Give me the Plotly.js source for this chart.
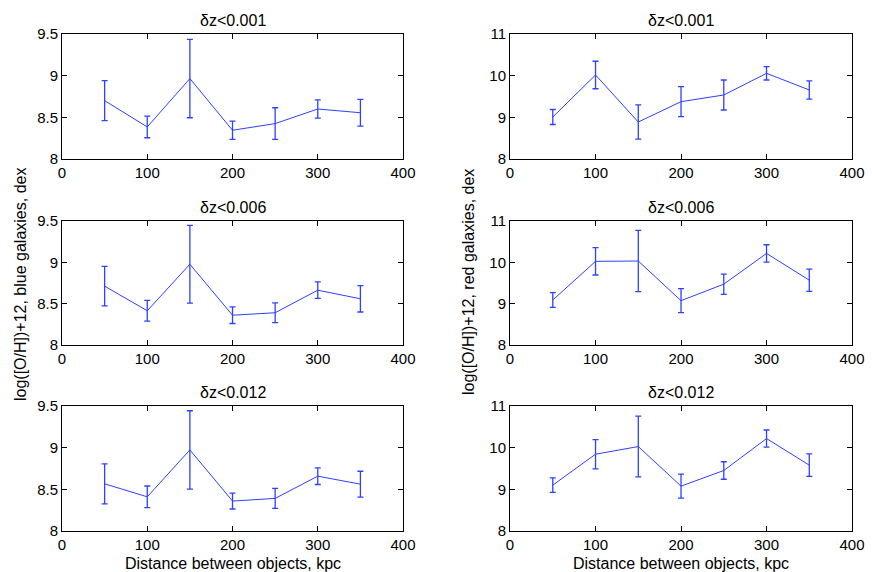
<!DOCTYPE html>
<html>
<head>
<meta charset="utf-8">
<script src="https://cdn.plot.ly/plotly-3.0.1.min.js"></script>
<style>html,body{margin:0;padding:0;background:#fff;}#chart{width:872px;height:572px;}</style>
</head>
<body>
<div id="chart"></div>
<script>
// Distances (kpc)
var distance = [50, 100, 150, 200, 250, 300, 350];

// Blue galaxies
var blue001 = [8.70, 8.385, 8.965, 8.345, 8.425, 8.60, 8.555];
var blue001Err = [0.24, 0.13, 0.47, 0.11, 0.19, 0.11, 0.16];
var blue006 = [8.712, 8.414, 8.977, 8.36, 8.39, 8.663, 8.559];
var blue006Err = [0.24, 0.125, 0.47, 0.10, 0.12, 0.10, 0.16];
var blue012 = [8.566, 8.41, 8.973, 8.359, 8.391, 8.658, 8.562];
var blue012Err = [0.24, 0.13, 0.47, 0.095, 0.12, 0.10, 0.155];

// Red galaxies
var red001 = [9.008, 10.016, 8.888, 9.376, 9.536, 10.056, 9.656];
var red001Err = [0.18, 0.33, 0.41, 0.36, 0.36, 0.16, 0.22];
var red006 = [9.088, 10.024, 10.032, 9.072, 9.472, 10.216, 9.568];
var red006Err = [0.18, 0.33, 0.74, 0.29, 0.245, 0.21, 0.27];
var red012 = [9.101, 9.843, 10.027, 9.077, 9.452, 10.219, 9.58];
var red012Err = [0.175, 0.35, 0.73, 0.29, 0.21, 0.205, 0.27];

var panelTitles = ["δz<0.001", "δz<0.001", "δz<0.006", "δz<0.006", "δz<0.012", "δz<0.012"];
var xTicks = [0, 100, 200, 300, 400];
var blueTicks = [8, 8.5, 9, 9.5];
var redTicks = [8, 9, 10, 11];
var xLabel = "Distance between objects, kpc";
var yLabelBlue = "log([O/H])+12, blue galaxies, dex";
var yLabelRed = "log([O/H])+12, red galaxies, dex";

var series = [
  [blue001, blue001Err], [red001, red001Err],
  [blue006, blue006Err], [red006, red006Err],
  [blue012, blue012Err], [red012, red012Err]
];

var lineColor = "rgb(45,65,255)";
var font = "Liberation Sans, Arial, sans-serif";

var colDom = [[0.0711, 0.4622], [0.5849, 0.9771]];
var rowDom = [[0.722, 0.9406], [0.3969, 0.6136], [0.0717, 0.2902]];

var traces = [];
var layout = {
  width: 872, height: 572,
  margin: {l: 0, r: 0, t: 0, b: 0},
  paper_bgcolor: "#fff", plot_bgcolor: "#fff",
  showlegend: false,
  font: {family: font, size: 15, color: "#000"},
  annotations: []
};

for (var i = 0; i < 6; i++) {
  var row = Math.floor(i / 2), col = i % 2;
  var n = i + 1;
  var xa = n === 1 ? "x" : "x" + n;
  var ya = n === 1 ? "y" : "y" + n;
  traces.push({
    type: "scatter", mode: "lines",
    x: distance, y: series[i][0],
    xaxis: xa, yaxis: ya,
    line: {color: lineColor, width: 1},
    error_y: {type: "data", array: series[i][1], visible: true, color: lineColor, thickness: 1.3, width: 3}
  });
  var axx = {
    domain: colDom[col], anchor: ya, range: [0, 400],
    tickvals: xTicks, ticktext: xTicks.map(String),
    ticks: "inside", ticklen: 5, tickcolor: "#000",
    showline: true, linecolor: "#000", linewidth: 1, mirror: "ticks",
    showgrid: false, zeroline: false,
    tickfont: {family: font, size: 15, color: "#000"}
  };
  var yt = col === 0 ? blueTicks : redTicks;
  var axy = {
    domain: rowDom[row], anchor: xa, range: col === 0 ? [8, 9.5] : [8, 11],
    tickvals: yt, ticktext: yt.map(String),
    ticks: "inside", ticklen: 5, tickcolor: "#000",
    showline: true, linecolor: "#000", linewidth: 1, mirror: "ticks",
    showgrid: false, zeroline: false,
    tickfont: {family: font, size: 15, color: "#000"}
  };
  layout["xaxis" + (n === 1 ? "" : n)] = axx;
  layout["yaxis" + (n === 1 ? "" : n)] = axy;
  layout.annotations.push({
    text: panelTitles[i], xref: "paper", yref: "paper",
    x: (colDom[col][0] + colDom[col][1]) / 2, y: rowDom[row][1],
    yshift: 3, xanchor: "center", yanchor: "bottom", showarrow: false,
    font: {family: font, size: 16, color: "#000"}
  });
  if (row === 2) {
    layout.annotations.push({
      text: xLabel, xref: "paper", yref: "paper",
      x: (colDom[col][0] + colDom[col][1]) / 2, y: 1 - 563 / 572,
      xanchor: "center", yanchor: "middle", showarrow: false,
      font: {family: font, size: 16, color: "#000"}
    });
  }
}

layout.annotations.push({
  text: yLabelBlue, xref: "paper", yref: "paper",
  x: 20 / 872, y: 1 - 285 / 572, xanchor: "center", yanchor: "middle",
  textangle: -90, showarrow: false, font: {family: font, size: 16, color: "#000"}
});
layout.annotations.push({
  text: yLabelRed, xref: "paper", yref: "paper",
  x: 468 / 872, y: 1 - 282 / 572, xanchor: "center", yanchor: "middle",
  textangle: -90, showarrow: false, font: {family: font, size: 16, color: "#000"}
});

Plotly.newPlot("chart", traces, layout, {displayModeBar: false, staticPlot: true});
</script>
</body>
</html>
